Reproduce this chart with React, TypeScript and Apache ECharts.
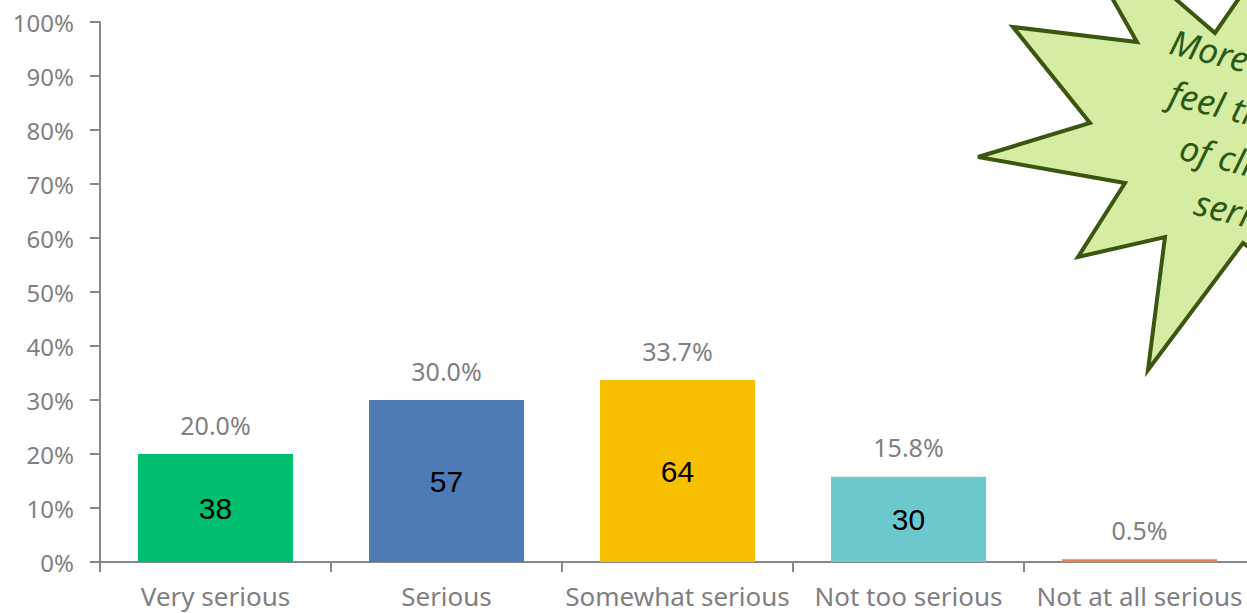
import React, { useEffect, useRef } from "react";
import * as echarts from "echarts";

const categories = ["Very serious", "Serious", "Somewhat serious", "Not too serious", "Not at all serious"];
const percents = [20.0, 30.0, 33.7, 15.8, 0.5];
const counts = [38, 57, 64, 30, 1];
const barColors = ["#00BF6F", "#4E7BB6", "#F8BF00", "#6BC8CD", "#E8834E"];
const calloutLines = ["More than half", "feel the impact", "of climate change", "serious"];

const starPoints = [
  [1094, -34], [1137, 42], [1013, 27], [1090, 123], [978, 157], [1125, 183],
  [1078, 257], [1165, 237], [1148, 370], [1243, 243], [1320, 300], [1300, 180],
  [1400, 80], [1290, 60], [1262, -35], [1215, 33], [1150, -23], [1125, -60],
];

export default function App() {
  const ref = useRef<HTMLDivElement>(null);
  useEffect(() => {
    const chart = echarts.init(ref.current!, undefined, { renderer: "svg" });
    const lineOffsets = [
      [0, 0], [12, 50], [35, 100], [63, 150],
    ];
    chart.setOption({
      animation: false,
      grid: { left: 100, right: -8, top: 22, bottom: 51, containLabel: false, outerBoundsMode: "none" },
      xAxis: {
        type: "category",
        data: categories,
        axisLine: { lineStyle: { color: "#878787", width: 2 } },
        axisTick: { show: true, length: 10, lineStyle: { color: "#878787", width: 2 } },
        axisLabel: { color: "#7F7F7F", fontSize: 26, fontFamily: "Noto Sans", margin: 21, interval: 0 },
      },
      yAxis: {
        type: "value",
        min: 0,
        max: 100,
        interval: 10,
        splitLine: { show: false },
        axisLine: { show: true, lineStyle: { color: "#878787", width: 2 } },
        axisTick: { show: true, length: 10, lineStyle: { color: "#878787", width: 2 } },
        axisLabel: { color: "#7F7F7F", fontSize: 24, fontFamily: "Noto Sans", margin: 26, formatter: "{value}%" },
      },
      series: [
        {
          type: "bar",
          barWidth: 155,
          barGap: "-100%",
          data: percents.map((v, i) => ({ value: v, itemStyle: { color: barColors[i] } })),
          label: {
            show: true,
            position: "inside",
            color: "#000",
            fontSize: 30,
            fontFamily: "Liberation Sans",
            formatter: (p: any) => (counts[p.dataIndex] >= 5 ? String(counts[p.dataIndex]) : ""),
          },
        },
        {
          type: "bar",
          barWidth: 155,
          barGap: "-100%",
          silent: true,
          data: percents,
          itemStyle: { color: "rgba(0,0,0,0)" },
          label: {
            show: true,
            position: "top",
            distance: 17,
            color: "#7F7F7F",
            fontSize: 25,
            fontFamily: "Noto Sans",
            formatter: (p: any) => percents[p.dataIndex].toFixed(1) + "%",
          },
        },
      ],
      graphic: [
        {
          type: "polygon",
          z: 100,
          shape: { points: starPoints },
          style: { fill: "#D5EDA3", stroke: "#3B560F", lineWidth: 4, lineJoin: "miter" },
        },
        {
          type: "group",
          x: 1168,
          y: 52,
          rotation: -0.244,
          z: 110,
          children: calloutLines.map((t, i) => ({
            type: "text",
            z: 110,
            x: lineOffsets[i][0],
            y: lineOffsets[i][1] - 12,
            style: {
              text: t,
              fill: "#2C5A14",
              font: "italic 35px 'Noto Sans'",
              textAlign: "left",
              textVerticalAlign: "middle",
            },
          })),
        },
      ],
    });
    return () => chart.dispose();
  }, []);
  return <div ref={ref} style={{ position: "absolute", left: 0, top: 0, width: 1247, height: 613 }} />;
}
